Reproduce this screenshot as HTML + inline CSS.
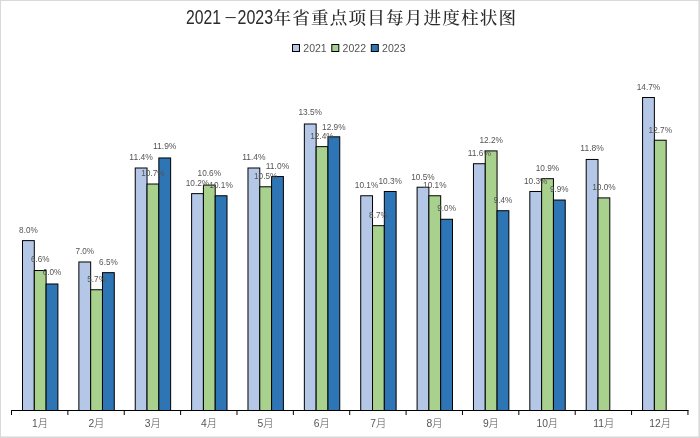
<!DOCTYPE html>
<html lang="zh-CN"><head><meta charset="utf-8"><title>2021-2023年省重点项目每月进度柱状图</title>
<style>
html,body{margin:0;padding:0;background:#fff;}
body{width:700px;height:438px;overflow:hidden;}
svg{display:block;}
.t{font-family:"Liberation Sans","Noto Serif CJK SC",serif;fill:#2b2b2b;}
.tc{font-family:"Noto Serif CJK SC","Liberation Serif",serif;font-weight:500;fill:#2b2b2b;}
.l{font-family:"Liberation Sans","Noto Sans CJK SC",sans-serif;fill:#545454;}
.b rect{stroke:#000;stroke-width:1;}
</style></head><body>
<svg xmlns="http://www.w3.org/2000/svg" width="700" height="438" viewBox="0 0 700 438">
<rect x="0" y="0" width="700" height="438" fill="#fff"/>
<rect x="0.5" y="0.5" width="698.75" height="436.75" fill="none" stroke="#d9d9d9" stroke-width="1"/>
<rect x="698.5" y="0" width="1.5" height="438" fill="#d9d9d9"/>
<rect x="0" y="436.5" width="700" height="1.5" fill="#d9d9d9"/>
<text class="t" font-size="19.4"><tspan x="186.1" y="24.3" textLength="35" lengthAdjust="spacingAndGlyphs">2021</tspan><tspan x="223.7" y="20.9" font-size="12" textLength="13.8" lengthAdjust="spacingAndGlyphs">-</tspan><tspan x="237.5" y="24.3" textLength="35.6" lengthAdjust="spacingAndGlyphs">2023</tspan></text>
<text class="tc" y="24.3" font-size="17.6" text-anchor="middle" x="282.3 301.1 319.8 338.6 357.3 376.1 394.8 413.6 432.3 451.1 469.8 488.6 507.3">年省重点项目每月进度柱状图</text>
<rect x="292.5" y="44.5" width="7" height="7" fill="#B4C7E7" stroke="#000" stroke-width="1"/><text class="l" x="303.3" y="51.6" font-size="11" textLength="23.4" lengthAdjust="spacingAndGlyphs">2021</text>
<rect x="331.8" y="44.5" width="7" height="7" fill="#A9D18E" stroke="#000" stroke-width="1"/><text class="l" x="342.6" y="51.6" font-size="11" textLength="23.4" lengthAdjust="spacingAndGlyphs">2022</text>
<rect x="371.3" y="44.5" width="7" height="7" fill="#2E75B6" stroke="#000" stroke-width="1"/><text class="l" x="382.1" y="51.6" font-size="11" textLength="23.4" lengthAdjust="spacingAndGlyphs">2023</text>
<g class="b">
<rect x="22.50" y="240.62" width="11.80" height="169.88" fill="#B4C7E7"/>
<rect x="78.87" y="261.98" width="11.80" height="148.52" fill="#B4C7E7"/>
<rect x="135.24" y="168.00" width="11.80" height="242.50" fill="#B4C7E7"/>
<rect x="191.61" y="193.63" width="11.80" height="216.87" fill="#B4C7E7"/>
<rect x="247.98" y="168.00" width="11.80" height="242.50" fill="#B4C7E7"/>
<rect x="304.35" y="123.99" width="11.80" height="286.51" fill="#B4C7E7"/>
<rect x="360.72" y="195.76" width="11.80" height="214.74" fill="#B4C7E7"/>
<rect x="417.09" y="187.22" width="11.80" height="223.28" fill="#B4C7E7"/>
<rect x="473.46" y="163.72" width="11.80" height="246.78" fill="#B4C7E7"/>
<rect x="529.83" y="191.49" width="11.80" height="219.01" fill="#B4C7E7"/>
<rect x="586.20" y="159.45" width="11.80" height="251.05" fill="#B4C7E7"/>
<rect x="642.57" y="97.51" width="11.80" height="312.99" fill="#B4C7E7"/>
<rect x="34.30" y="270.52" width="11.80" height="139.98" fill="#A9D18E"/>
<rect x="90.67" y="289.75" width="11.80" height="120.75" fill="#A9D18E"/>
<rect x="147.04" y="184.02" width="11.80" height="226.48" fill="#A9D18E"/>
<rect x="203.41" y="185.08" width="11.80" height="225.42" fill="#A9D18E"/>
<rect x="259.78" y="186.79" width="11.80" height="223.71" fill="#A9D18E"/>
<rect x="316.15" y="146.64" width="11.80" height="263.86" fill="#A9D18E"/>
<rect x="372.52" y="225.67" width="11.80" height="184.83" fill="#A9D18E"/>
<rect x="428.89" y="195.76" width="11.80" height="214.74" fill="#A9D18E"/>
<rect x="485.26" y="150.91" width="11.80" height="259.59" fill="#A9D18E"/>
<rect x="541.63" y="178.68" width="11.80" height="231.82" fill="#A9D18E"/>
<rect x="598.00" y="197.90" width="11.80" height="212.60" fill="#A9D18E"/>
<rect x="654.37" y="140.23" width="11.80" height="270.27" fill="#A9D18E"/>
<rect x="46.10" y="283.98" width="11.80" height="126.52" fill="#2E75B6"/>
<rect x="102.47" y="272.66" width="11.80" height="137.84" fill="#2E75B6"/>
<rect x="158.84" y="157.96" width="11.80" height="252.54" fill="#2E75B6"/>
<rect x="215.21" y="195.76" width="11.80" height="214.74" fill="#2E75B6"/>
<rect x="271.58" y="176.54" width="11.80" height="233.96" fill="#2E75B6"/>
<rect x="327.95" y="136.81" width="11.80" height="273.69" fill="#2E75B6"/>
<rect x="384.32" y="191.49" width="11.80" height="219.01" fill="#2E75B6"/>
<rect x="440.69" y="219.26" width="11.80" height="191.24" fill="#2E75B6"/>
<rect x="497.06" y="210.72" width="11.80" height="199.78" fill="#2E75B6"/>
<rect x="553.43" y="200.04" width="11.80" height="210.46" fill="#2E75B6"/>
</g>
<path d="M11.0 410.5H688.4" stroke="#000" stroke-width="1" fill="none"/>
<path d="M11.50 410V415M67.87 410V415M124.24 410V415M180.61 410V415M236.98 410V415M293.35 410V415M349.72 410V415M406.09 410V415M462.46 410V415M518.83 410V415M575.20 410V415M631.57 410V415M687.94 410V415" stroke="#000" stroke-width="1" fill="none"/>
<g class="l" font-size="9.4" text-anchor="middle">
<text x="28.4" y="233.2" textLength="18.6" lengthAdjust="spacingAndGlyphs">8.0%</text>
<text x="84.8" y="253.9" textLength="18.6" lengthAdjust="spacingAndGlyphs">7.0%</text>
<text x="141.1" y="159.6" textLength="23.5" lengthAdjust="spacingAndGlyphs">11.4%</text>
<text x="197.5" y="186.2" textLength="23.5" lengthAdjust="spacingAndGlyphs">10.2%</text>
<text x="253.9" y="159.9" textLength="23.5" lengthAdjust="spacingAndGlyphs">11.4%</text>
<text x="310.2" y="115.4" textLength="23.5" lengthAdjust="spacingAndGlyphs">13.5%</text>
<text x="366.6" y="187.7" textLength="23.5" lengthAdjust="spacingAndGlyphs">10.1%</text>
<text x="423.0" y="179.6" textLength="23.5" lengthAdjust="spacingAndGlyphs">10.5%</text>
<text x="479.4" y="155.6" textLength="23.5" lengthAdjust="spacingAndGlyphs">11.6%</text>
<text x="535.7" y="183.9" textLength="23.5" lengthAdjust="spacingAndGlyphs">10.3%</text>
<text x="592.1" y="151.4" textLength="23.5" lengthAdjust="spacingAndGlyphs">11.8%</text>
<text x="648.5" y="90.1" textLength="23.5" lengthAdjust="spacingAndGlyphs">14.7%</text>
<text x="40.2" y="262.4" textLength="18.6" lengthAdjust="spacingAndGlyphs">6.6%</text>
<text x="96.6" y="282.3" textLength="18.6" lengthAdjust="spacingAndGlyphs">5.7%</text>
<text x="152.9" y="175.6" textLength="23.5" lengthAdjust="spacingAndGlyphs">10.7%</text>
<text x="209.3" y="176.3" textLength="23.5" lengthAdjust="spacingAndGlyphs">10.6%</text>
<text x="265.7" y="178.7" textLength="23.5" lengthAdjust="spacingAndGlyphs">10.5%</text>
<text x="322.0" y="138.5" textLength="23.5" lengthAdjust="spacingAndGlyphs">12.4%</text>
<text x="378.4" y="217.6" textLength="18.6" lengthAdjust="spacingAndGlyphs">8.7%</text>
<text x="434.8" y="187.7" textLength="23.5" lengthAdjust="spacingAndGlyphs">10.1%</text>
<text x="491.2" y="142.8" textLength="23.5" lengthAdjust="spacingAndGlyphs">12.2%</text>
<text x="547.5" y="170.6" textLength="23.5" lengthAdjust="spacingAndGlyphs">10.9%</text>
<text x="603.9" y="189.8" textLength="23.5" lengthAdjust="spacingAndGlyphs">10.0%</text>
<text x="660.3" y="132.9" textLength="23.5" lengthAdjust="spacingAndGlyphs">12.7%</text>
<text x="52.0" y="275.1" textLength="18.6" lengthAdjust="spacingAndGlyphs">6.0%</text>
<text x="108.4" y="264.6" textLength="18.6" lengthAdjust="spacingAndGlyphs">6.5%</text>
<text x="164.7" y="149.2" textLength="23.5" lengthAdjust="spacingAndGlyphs">11.9%</text>
<text x="221.1" y="188.4" textLength="23.5" lengthAdjust="spacingAndGlyphs">10.1%</text>
<text x="277.5" y="169.2" textLength="23.5" lengthAdjust="spacingAndGlyphs">11.0%</text>
<text x="333.8" y="129.6" textLength="23.5" lengthAdjust="spacingAndGlyphs">12.9%</text>
<text x="390.2" y="183.8" textLength="23.5" lengthAdjust="spacingAndGlyphs">10.3%</text>
<text x="446.6" y="211.2" textLength="18.6" lengthAdjust="spacingAndGlyphs">9.0%</text>
<text x="503.0" y="202.6" textLength="18.6" lengthAdjust="spacingAndGlyphs">9.4%</text>
<text x="559.3" y="191.9" textLength="18.6" lengthAdjust="spacingAndGlyphs">9.9%</text>
</g>
<g class="l" font-size="10.3" text-anchor="middle" font-weight="300">
<text x="40.0" y="427.1">1月</text>
<text x="96.4" y="427.1">2月</text>
<text x="152.7" y="427.1">3月</text>
<text x="209.1" y="427.1">4月</text>
<text x="265.5" y="427.1">5月</text>
<text x="321.8" y="427.1">6月</text>
<text x="378.2" y="427.1">7月</text>
<text x="434.6" y="427.1">8月</text>
<text x="490.9" y="427.1">9月</text>
<text x="547.3" y="427.1">10月</text>
<text x="603.7" y="427.1">11月</text>
<text x="660.1" y="427.1">12月</text>
</g>
</svg>
</body></html>
